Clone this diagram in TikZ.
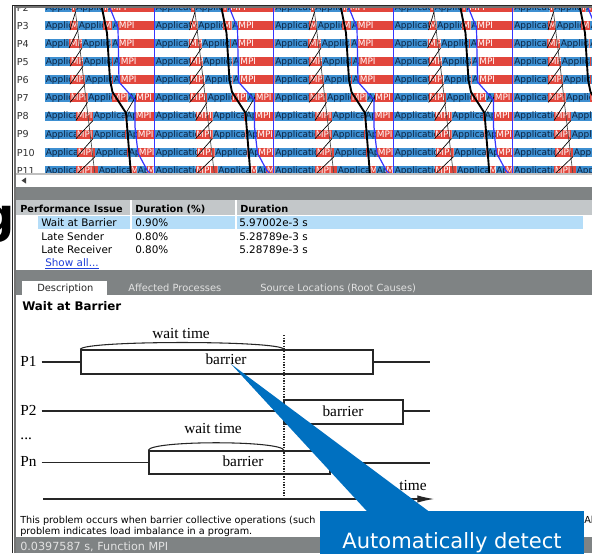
\documentclass[tikz,border=0pt]{standalone}
\usepackage{fontspec}
\setmainfont{DejaVu Sans}
\newfontfamily\diagfont{Liberation Serif}
\usetikzlibrary{arrows.meta}

\definecolor{bandblue}{HTML}{3D8FD1}
\definecolor{mpired}{HTML}{E2463C}
\definecolor{barink}{HTML}{0C2340}
\definecolor{panelgray}{HTML}{7F8384}
\definecolor{headgray}{HTML}{C3C7C9}
\definecolor{selblue}{HTML}{B5DDF8}
\definecolor{tabink}{HTML}{E2E2E2}
\definecolor{linkblue}{HTML}{2040D8}
\definecolor{outlineblue}{HTML}{3535FF}
\definecolor{calloutblue}{HTML}{0070C0}
\definecolor{boxink}{HTML}{262626}

\newcommand\txtA{Application}
\newcommand\txtM{MPI}

\begin{document}
\begin{tikzpicture}[x=0.75pt,y=-0.75pt,
    bartext/.style={font=\fontsize{6.7}{7}\selectfont,inner sep=0pt,anchor=base west},
    segA/.style={fill=bandblue}, segM/.style={fill=mpired},
    textA/.style={text=barink}, textM/.style={text=white},
    rowlabel/.style={font=\fontsize{7.2}{8}\selectfont,text=black!80,inner sep=0pt,anchor=base west},
    msgline/.style={black,line width=0.5pt},
    waitline/.style={black,line width=1.4pt},
    outline/.style={outlineblue,line width=0.9pt},
    ui/.style={font=\fontsize{7.8}{9}\selectfont,inner sep=0pt,anchor=base west},
    uihead/.style={ui,font=\fontsize{7.3}{9}\bfseries\selectfont},
    tab/.style={font=\fontsize{7.4}{9}\selectfont,inner sep=0pt,anchor=base west,text=tabink},
    desc/.style={font=\fontsize{7.25}{8}\selectfont,inner sep=0pt,anchor=base west},
    diag/.style={font=\fontsize{11.5}{13}\diagfont,inner sep=0pt,anchor=base},
    plabel/.style={font=\fontsize{11.5}{13}\diagfont,inner xsep=3.5pt,inner ysep=0pt,anchor=base west},
    pbox/.style={draw=boxink,line width=1.1pt,inner sep=0pt},
    tline/.style={boxink,line width=0.8pt}]

\useasboundingbox (0,0) rectangle (592,553);
\clip (0,0) rectangle (592,553);
\fill[white] (0,0) rectangle (592,553);

% letter cut off left of the window
\begin{scope}
    \clip (0,0) rectangle (12,553);
    \node[font=\fontsize{36}{36}\bfseries\selectfont,inner sep=0pt,anchor=base west] (cutg) at (-20,232) {g};
\end{scope}

% timeline rows
\begin{scope}
    \clip (45,8) rectangle (592,173.5);
    \foreach \k in {0,...,4} {
        \pgfmathsetmacro\s{35.5+119.5*\k}
        \foreach \r/\segs in {
            2/{A/0/36,M/36/40,A/40/68,M/68/72,A/72/74.5,M/74.5/119.5},
            3/{A/0/34.5,M/34.5/42.5,A/42.5/67.5,M/67.5/76.5,A/76.5/82.5,M/82.5/119.5},
            4/{A/0/33.5,M/33.5/46.5,A/46.5/75,M/75/76,A/76/82.5,M/82.5/119.5},
            5/{A/0/34.5,M/34.5/47.5,A/47.5/76.5,M/76.5/77.5,A/77.5/84.5,M/84.5/119.5},
            6/{A/0/34.5,M/34.5/49.5,A/49.5/76.5,M/76.5/77.5,A/77.5/84.5,M/84.5/119.5},
            7/{A/0/34.5,M/34.5/52,A/52/76.5,M/76.5/92,A/92/100,M/100/119.5},
            8/{A/0/40.5,M/40.5/57.5,A/57.5/89,M/89/90,A/90/99.5,M/99.5/119.5},
            9/{A/0/40.5,M/40.5/57.5,A/57.5/89.5,M/89.5/90.5,A/90.5/101.5,M/101.5/119.5},
            10/{A/0/41.5,M/41.5/59.5,A/59.5/91.5,M/91.5/92.5,A/92.5/102.5,M/102.5/119.5},
            11/{A/0/40.5,M/40.5/62.5,A/62.5/94.5,M/94.5/101.5,A/101.5/111,M/111/119.5}} {
            \pgfmathsetmacro\yt{21+(\r-3)*18.1}
            \foreach \c/\a/\b [count=\n] in \segs {
                \pgfmathsetmacro\xa{max(\s+\a,45)}
                \pgfmathsetmacro\xb{\s+\b}
                \begin{scope}
                    \clip (\xa,\yt) rectangle (\xb,\yt+9);
                    \fill[seg\c] (\xa,\yt) rectangle (\xb,\yt+9);
                    \node[bartext,text\c] (seg-\k-\r-\n) at (\xa+0.6,\yt+7.4) {\csname txt\c\endcsname};
                \end{scope}
            }
        }
    }
    % messages and barrier outline, same in every period
    \foreach \k in {0,...,4} {
        \begin{scope}[shift={(35.5+119.5*\k,0)}]
            \draw[msgline,black!70] (39.5,8) -- (47,70) -- (59.5,175);
            \foreach \r/\ua/\ub in {3/34.5/40,4/33.5/42.5,5/34.5/46.5,6/34.5/47.5,7/34.5/49.5,
                                    8/40.5/52,9/40.5/57.5,10/41.5/57.5,11/40.5/59.5}
                \draw[msgline] (\ua,{30+(\r-3)*18.1}) -- (\ub,{30+(\r-4)*18.1});
            \draw[waitline] (66.5,8) -- (71.5,33) -- (74.5,80) -- (77,92) -- (90.5,113) -- (95.5,175);
            \draw[msgline] (100,97) -- (90.5,113);
            \draw[outline] (74.5,8) -- (82.5,28) -- (83.5,82) -- (99.5,100) -- (99.5,127)
                -- (102.5,153) -- (111.5,170) -- (116,175);
            \draw[outline] (118.8,8) -- (118.8,175);
        \end{scope}
    }
\end{scope}

% process labels
\begin{scope}
    \clip (15,8) rectangle (45,173.5);
    \foreach \r in {2,...,11}
        \node[rowlabel] (lab-\r) at (16.5,{21+(\r-3)*18.1+8.3}) {P\r};
\end{scope}

% scroll bar and table
\draw[black!25,line width=1.1pt] (15,174.2) -- (592,174.2);
\fill[black!75] (21.5,180.5) -- (26,177.5) -- (26,183.5) -- cycle;
\fill[panelgray] (15,186.5) rectangle (592,200);
\fill[headgray] (15.6,200) rectangle (130,215);
\fill[headgray] (132.3,200) rectangle (235,215);
\fill[headgray] (237.3,200) rectangle (592,215);
\node[uihead] (hd-issue) at (20,212) {Performance Issue};
\node[uihead] (hd-pct) at (135,212) {Duration (\%)};
\node[uihead] (hd-dur) at (240,212) {Duration};

\fill[selblue] (38.3,216) rectangle (130,228.5);
\fill[selblue] (132.3,216) rectangle (235,228.5);
\fill[selblue] (237.3,216) rectangle (583,228.5);
\node[ui] (iss-1) at (41,226.5) {Wait at Barrier};
\node[ui] (pct-1) at (135,226.5) {0.90\%};
\node[ui] (dur-1) at (239,226.5) {5.97002e-3 s};
\node[ui] (iss-2) at (41,240) {Late Sender};
\node[ui] (pct-2) at (135,240) {0.80\%};
\node[ui] (dur-2) at (239,240) {5.28789e-3 s};
\node[ui] (iss-3) at (41,253.3) {Late Receiver};
\node[ui] (pct-3) at (135,253.3) {0.80\%};
\node[ui] (dur-3) at (239,253.3) {5.28789e-3 s};
\node[ui,text=linkblue] (show) at (45,266.5) {\underline{Show all...}};

% tabs
\fill[panelgray] (15,270) rectangle (592,295);
\fill[white] (21.7,281) rectangle (107.3,295.5);
\node[tab,text=black!85] (tab-desc) at (37,291.5) {Description};
\node[tab] (tab-proc) at (128,291.5) {Affected Processes};
\node[tab] (tab-src) at (260,291.5) {Source Locations (Root Causes)};

\node[ui,font=\fontsize{8.9}{10}\bfseries\selectfont] (title) at (22,310.7) {Wait at Barrier};

% barrier diagram
\node[pbox,minimum width=219pt,minimum height=18pt] (bar1) at (227,362) {};
\node[pbox,minimum width=89.25pt,minimum height=18pt] (bar2) at (343.5,412) {};
\node[pbox,minimum width=135.75pt,minimum height=17.25pt] (barn) at (239.5,462.5) {};
\node[diag] (txt1) at (226,364) {barrier};
\node[diag] (txt2) at (343,416) {barrier};
\node[diag] (txtn) at (243,466.7) {barrier};

\node[plabel] (p1) at (15.5,366) {P1};
\node[plabel] (p2) at (15.5,415) {P2};
\node[plabel] (dots) at (15.5,439) {...};
\node[plabel] (pn) at (15.5,466.7) {Pn};

\coordinate (end1) at (430,362);
\coordinate (end2) at (430,411);
\coordinate (endn) at (430,463);
\draw[tline] (p1.east |- bar1) -- (bar1.west);
\draw[tline] (bar1.east) -- (end1);
\draw[tline] (p2.east |- end2) -- (bar2.west |- end2);
\draw[tline] (bar2.east |- end2) -- (end2);
\draw[tline] (pn.east |- barn) -- (barn.west);
\draw[tline] (barn.east |- endn) -- (endn);

\coordinate (dot-top) at (284,335);
\coordinate (dot-bot) at (284,498);
\draw[boxink,line width=1pt,densely dotted] (dot-top) -- (dot-bot);

\node[diag] (wait1) at (181,338) {wait time};
\node[diag] (wait2) at (213,433) {wait time};
\draw[tline] (bar1.north west) .. controls +(4,-9) and +(-4,-9) .. (dot-top |- bar1.north);
\draw[tline] (barn.north west) .. controls +(3,-10) and +(-3,-10) .. (dot-top |- barn.north);

\coordinate (axis-start) at (43,499);
\coordinate (axis-end) at (434,499);
\draw[tline,-{Latex[length=12.5pt,width=5.5pt]}] (axis-start) -- (axis-end);
\node[diag] (time) at (413,490) {time};

% explanation and status bar
\node[desc] (desc-1) at (20,523) {This problem occurs when barrier collective operations (such};
\node[desc] (desc-1b) at (584,523) {All};
\node[desc] (desc-2) at (20,534) {problem indicates load imbalance in a program.};
\fill[panelgray] (15,536.5) rectangle (592,553);
\node[ui,text=tabink,font=\fontsize{8.4}{9}\selectfont] (status) at (20,550) {0.0397587 s, Function MPI};

% window frame
\draw[black!85,line width=1pt] (12.6,553) -- (12.6,5.2) -- (592,5.2);
\draw[black!55,line width=1.5pt] (14.6,553) -- (14.6,6.8) -- (592,6.8);

% callout
\node[fill=calloutblue,text=white,minimum width=198pt,minimum height=47.25pt,inner sep=0pt,
      font=\fontsize{15.8}{18}\selectfont] (callout) at (452,542.5) {Automatically detect};
\coordinate (tip) at (231,364);
\fill[calloutblue] (tip) -- ([xshift=36pt,yshift=-1pt]callout.north west)
    -- ([xshift=82.5pt,yshift=-1pt]callout.north west) -- cycle;

\end{tikzpicture}
\end{document}
